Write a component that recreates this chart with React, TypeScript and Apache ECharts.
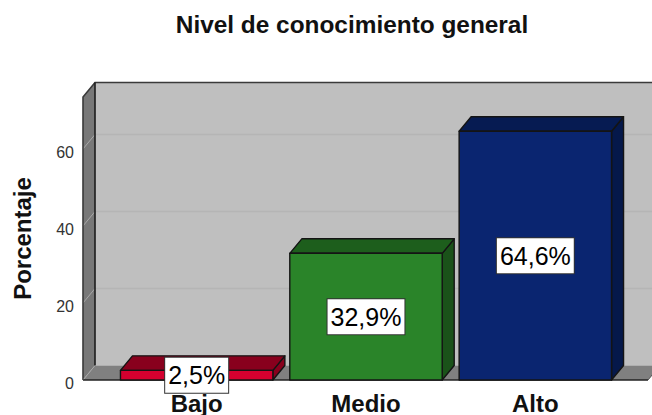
import React, { useEffect, useRef } from "react";
import * as echarts from "echarts";

const titleText = "Nivel de conocimiento general";
const yAxisName = "Porcentaje";
const categories = ["Bajo", "Medio", "Alto"];
const values = [2.5, 32.9, 64.6];
const valueLabels = ["2,5%", "32,9%", "64,6%"];
const gridValues = [20, 40, 60];
const frontColors = ["#d4002f", "#2a8429", "#0a2570"];
const topColors = ["#88001d", "#1d5e1c", "#061b52"];
const sideColors = ["#88001d", "#1a5219", "#05184a"];

const FONT = "'Liberation Sans', Arial, sans-serif";
const DX = 12;
const DY = -14.5;
const EDGE = "#141414";

function renderWalls(params: any, api: any) {
  const cs = params.coordSys;
  const y0 = api.coord([0, 0])[1];
  const top = cs.y;
  const left = cs.x - 29;
  const right = cs.x + cs.width + 28;
  const children: any[] = [
    {
      type: "polygon",
      shape: { points: [[left + DX, top + DY], [right + DX + 20, top + DY], [right + DX + 20, y0 + DY], [left + DX, y0 + DY]] },
      style: { fill: "#bfbfbf", stroke: "none" },
    },
    {
      type: "polygon",
      shape: { points: [[left, top], [left + DX, top + DY], [left + DX, y0 + DY], [left, y0]] },
      style: { fill: "#787878", stroke: "none" },
    },
    {
      type: "polygon",
      shape: { points: [[left, y0], [left + DX, y0 + DY], [right + DX, y0 + DY], [right, y0]] },
      style: { fill: "#808080", stroke: "none" },
    },
  ];
  gridValues.forEach((v) => {
    const y = api.coord([0, v])[1];
    children.push(
      { type: "line", shape: { x1: left + DX, y1: y + DY, x2: right + DX + 20, y2: y + DY }, style: { stroke: "#b5b5b5", lineWidth: 1.5 } },
      { type: "line", shape: { x1: left, y1: y, x2: left + DX, y2: y + DY }, style: { stroke: "#a8a8a8", lineWidth: 1 } }
    );
  });
  children.push(
    { type: "polyline", shape: { points: [[left, y0], [left, top], [left + DX, top + DY], [right + DX + 20, top + DY]] }, style: { fill: "none", stroke: "#3a3a3a", lineWidth: 1.6 } },
    { type: "line", shape: { x1: left + DX, y1: top + DY, x2: left + DX, y2: y0 + DY }, style: { stroke: "#1c1c1c", lineWidth: 1.6 } },
    { type: "line", shape: { x1: left, y1: y0, x2: left + DX, y2: y0 + DY }, style: { stroke: "#a8a8a8", lineWidth: 1 } },
    { type: "line", shape: { x1: left, y1: y0, x2: right, y2: y0 }, style: { stroke: "#222222", lineWidth: 1.6 } },
    { type: "line", shape: { x1: right, y1: y0, x2: right + DX, y2: y0 + DY }, style: { stroke: "#555555", lineWidth: 1 } }
  );
  return { type: "group", children };
}

function renderBar(params: any, api: any) {
  const i = api.value(0);
  const p = api.coord([i, api.value(1)]);
  const base = api.coord([i, 0]);
  const w = api.size([1, 0])[0] * 0.9;
  const l = p[0] - w / 2;
  const r = p[0] + w / 2;
  const t = p[1];
  const b = base[1];
  const stroke = { stroke: EDGE, lineWidth: 1.4, lineJoin: "round" };
  return {
    type: "group",
    children: [
      { type: "polygon", shape: { points: [[r, t], [r + DX, t + DY], [r + DX, b + DY], [r, b]] }, style: { fill: sideColors[i], ...stroke } },
      { type: "polygon", shape: { points: [[l, t], [l + DX, t + DY], [r + DX, t + DY], [r, t]] }, style: { fill: topColors[i], ...stroke } },
      { type: "rect", shape: { x: l, y: t, width: w, height: b - t }, style: { fill: frontColors[i], ...stroke } },
    ],
  };
}

function renderLabel(params: any, api: any) {
  const i = api.value(0);
  const p = api.coord([i, api.value(1)]);
  const base = api.coord([i, 0]);
  return {
    type: "text",
    x: p[0],
    y: (p[1] + base[1]) / 2,
    style: {
      text: valueLabels[i],
      fill: "#000000",
      font: `25px ${FONT}`,
      align: "center",
      verticalAlign: "middle",
      backgroundColor: "#ffffff",
      borderColor: "#333333",
      borderWidth: 1,
      padding: [5, 3, 5, 3],
    },
  };
}

export default function App() {
  const ref = useRef<HTMLDivElement>(null);
  useEffect(() => {
    const chart = echarts.init(ref.current!, undefined, { renderer: "svg" });
    const seriesData = values.map((v, i) => [i, v]);
    chart.setOption({
      animation: false,
      backgroundColor: "#ffffff",
      title: {
        text: titleText,
        left: 347,
        top: 7,
        textAlign: "center",
        textStyle: { fontFamily: FONT, fontSize: 24.4, fontWeight: "bold", color: "#111111" },
      },
      grid: { left: 112, width: 508, top: 97, height: 283, outerBoundsMode: "none" },
      xAxis: {
        type: "category",
        data: categories,
        axisLine: { show: false },
        axisTick: { show: false },
        splitLine: { show: false },
        axisLabel: { margin: 11, fontFamily: FONT, fontSize: 24, fontWeight: "bold", color: "#111111" },
      },
      yAxis: {
        type: "value",
        min: 0,
        max: 73.5,
        interval: 20,
        name: yAxisName,
        nameLocation: "middle",
        nameGap: 78,
        nameRotate: 90,
        nameTextStyle: { fontFamily: FONT, fontSize: 24, fontWeight: "bold", color: "#111111" },
        axisLine: { show: false },
        axisTick: { show: false },
        splitLine: { show: false },
        axisLabel: {
          margin: 38,
          showMaxLabel: false,
          fontFamily: FONT,
          fontSize: 16,
          color: "#333333",
          verticalAlign: "top",
          lineHeight: 7,
        },
      },
      series: [
        { type: "custom", z: 1, clip: false, silent: true, renderItem: renderWalls, data: [[0, 0]] },
        { type: "custom", z: 2, clip: false, silent: true, renderItem: renderBar, data: seriesData },
        { type: "custom", z: 3, clip: false, silent: true, renderItem: renderLabel, data: seriesData },
      ],
    });
    return () => chart.dispose();
  }, []);
  return <div ref={ref} style={{ position: "absolute", left: 0, top: 0, width: 652, height: 415 }} />;
}
